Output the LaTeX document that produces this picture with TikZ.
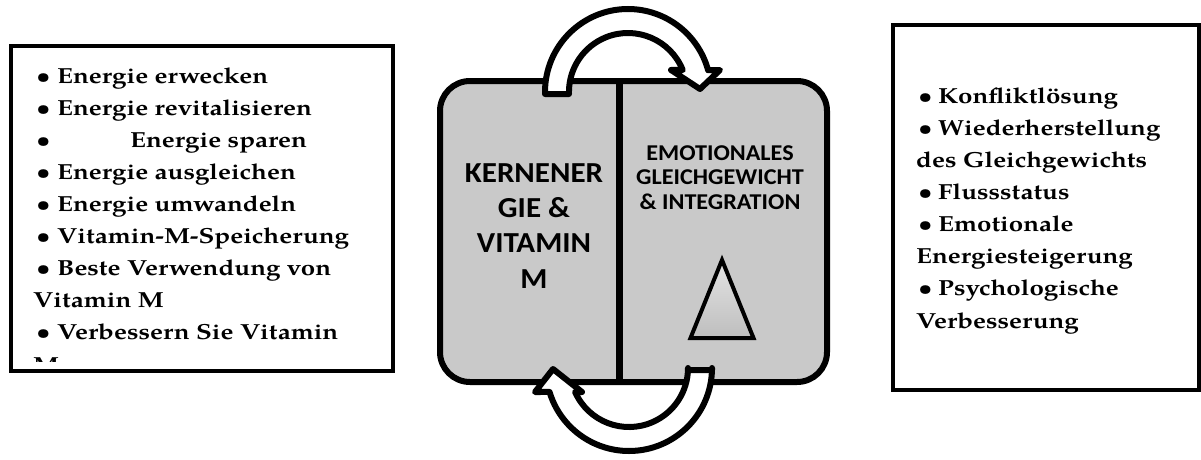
\documentclass[tikz,border=0pt]{standalone}
\usepackage{fontspec}
\setmainfont{texgyrepagella}[Extension=.otf, UprightFont=*-regular, BoldFont=*-bold, ItalicFont=*-italic, BoldItalicFont=*-bolditalic, FakeStretch=1.19]
\newfontfamily\calib{Carlito}[FakeStretch=1.07]
\definecolor{panelgray}{RGB}{201,201,201}
\definecolor{triatop}{RGB}{228,228,228}
\definecolor{triabot}{RGB}{190,190,190}
\newcommand{\bulletmark}[1]{\makebox[#1][l]{\hspace*{1pt}\mdseries\textbullet}}
\begin{document}
\begin{tikzpicture}[x=1pt,y=1pt,
  listbox/.style={draw, line width=4pt, inner sep=0pt, outer sep=0pt},
  listtext/.style={anchor=base west, inner sep=0pt, align=left,
    font=\fontsize{21.8}{32.1}\selectfont\bfseries},
  panel/.style={draw, line width=6pt, fill=panelgray, rounded corners=30pt,
    inner sep=0pt, outer sep=0pt},
  paneltext/.style={anchor=base, inner sep=0pt, align=center},
  bigarrow/.style={draw, line width=6pt, fill=white, line join=round}]
\useasboundingbox (0,0) rectangle (1201,459);

% left list box (text anchored at the baseline of its last line)
\node[listbox, minimum width=382pt, minimum height=325pt] (lbox) at (202,250.5) {};
\begin{scope}
  \clip (13,98) rectangle (391,411);
  \node[listtext] (ltext) at (35,87) {%
    \bulletmark{22pt}Energie erwecken\\
    \bulletmark{22pt}Energie revitalisieren\\
    \bulletmark{95pt}Energie sparen\\
    \bulletmark{22pt}Energie ausgleichen\\
    \bulletmark{22pt}Energie umwandeln\\
    \bulletmark{22pt}Vitamin-M-Speicherung\\
    \bulletmark{22pt}Beste Verwendung von\\
    \hspace*{-2pt}Vitamin M\\
    \bulletmark{22pt}Verbessern Sie Vitamin\\
    \hspace*{-2pt}M};
\end{scope}

% right list box
\node[listbox, minimum width=306pt, minimum height=365pt] (rbox) at (1046,251.5) {};
\node[listtext] (rtext) at (917,131) {%
  \bulletmark{21pt}Konfliktlösung\\
  \bulletmark{21pt}Wiederherstellung\\
  \hspace*{-1pt}des Gleichgewichts\\
  \bulletmark{21pt}Flussstatus\\
  \bulletmark{21pt}Emotionale\\
  \hspace*{-1pt}Energiesteigerung\\
  \bulletmark{21pt}Psychologische\\
  \hspace*{-1pt}Verbesserung};

% central two-part panel
\node[panel, minimum width=387pt, minimum height=301pt] (panel) at (633.5,227.5) {};
\coordinate (divtop) at (619,378);
\coordinate (divbot) at (619,77);
\draw[line width=7pt] (divtop) -- (divbot);

\node[paneltext, font=\calib\bfseries\fontsize{29}{35.3}\selectfont] (core) at (534,171)
  {KERNENER\\GIE \&\\VITAMIN\\M};
\node[paneltext, font=\calib\bfseries\fontsize{22.6}{24.5}\selectfont] (emo) at (720,250)
  {EMOTIONALES\\GLEICHGEWICHT\\\& INTEGRATION};

% triangle symbol
\coordinate (apex) at (722,199);
\coordinate (bl) at (690.5,121);
\coordinate (br) at (753.5,121);
\draw[line width=4pt, line join=miter, top color=triatop, bottom color=triabot]
  (apex) -- (br) -- (bl) -- cycle;

% upper curved arrow: left half to right half
\draw[bigarrow] (569,365) -- (545,365) -- (545,367)
  arc[start angle=180, end angle=15.2, radius=83]
  -- (720,389) -- (700,370) -- (671,389) -- (682.7,389)
  arc[start angle=21.9, end angle=180, radius=59] -- cycle;

% lower curved arrow: right half to left half
\draw[bigarrow] (712,89) -- (712,91)
  arc[start angle=0, end angle=-163.2, radius=83]
  -- (535,67) -- (553,90) -- (582,67) -- (575.1,67)
  arc[start angle=-156, end angle=0, radius=59] -- (688,89) -- cycle;
\end{tikzpicture}
\end{document}
